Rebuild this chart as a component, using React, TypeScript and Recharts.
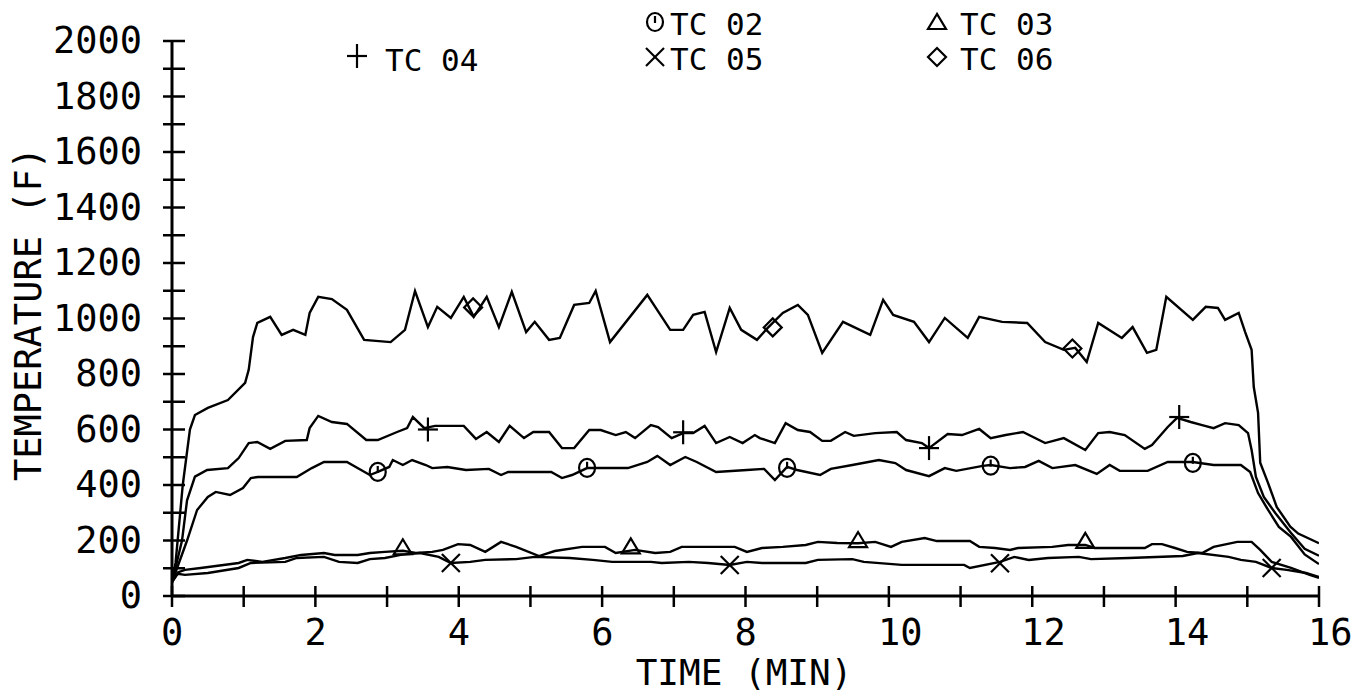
import React from 'react';
import { ComposedChart, Line, Scatter, XAxis, YAxis, Customized } from 'recharts';

type Pt = [number, number];

// Thermocouple series: [time (min), temperature (F)]
const tc06: Pt[] = [[0,50],[0.05,120],[0.15,400],[0.25,600],[0.32,652],[0.5,678],[0.78,706],[1.02,768],[1.07,815],[1.13,933],[1.19,984],[1.37,1006],[1.53,941],[1.69,959],[1.86,941],[1.92,1020],[2.04,1078],[2.23,1070],[2.44,1031],[2.68,923],[3.05,915],[3.25,959],[3.39,1099],[3.57,969],[3.70,1042],[3.89,1002],[4.07,1078],[4.21,1006],[4.39,1078],[4.56,969],[4.74,1096],[4.94,951],[5.06,988],[5.26,923],[5.41,930],[5.61,1049],[5.82,1056],[5.91,1099],[6.11,915],[6.63,1085],[6.95,959],[7.13,959],[7.27,1013],[7.43,1024],[7.59,879],[7.78,1038],[7.94,959],[8.16,923],[8.31,966],[8.52,1020],[8.73,1049],[8.87,1013],[9.07,876],[9.36,988],[9.74,941],[9.92,1067],[10.06,1013],[10.35,988],[10.56,915],[10.78,1002],[11.10,930],[11.26,1006],[11.58,988],[11.93,984],[12.18,915],[12.44,887],[12.60,894],[12.76,843],[12.92,984],[13.25,930],[13.40,969],[13.60,876],[13.73,887],[13.87,1078],[14.24,995],[14.42,1042],[14.59,1038],[14.69,995],[14.88,1020],[14.97,951],[15.06,887],[15.09,753],[15.15,660],[15.18,480],[15.29,407],[15.41,321],[15.6,250],[15.71,225],[16,190]];

const tc04: Pt[] = [[0,50],[0.14,200],[0.21,345],[0.32,430],[0.49,454],[0.78,461],[0.93,497],[1.07,551],[1.19,555],[1.37,530],[1.58,559],[1.88,562],[1.92,605],[2.04,649],[2.23,627],[2.44,620],[2.71,562],[2.87,562],[3.14,591],[3.28,605],[3.36,645],[3.52,605],[3.67,613],[4.07,613],[4.24,566],[4.39,591],[4.56,555],[4.71,613],[4.91,569],[5.04,591],[5.26,591],[5.44,533],[5.61,533],[5.82,598],[5.98,598],[6.19,580],[6.33,591],[6.46,569],[6.68,616],[6.78,609],[6.97,569],[7.13,587],[7.27,587],[7.43,613],[7.59,551],[7.78,573],[7.96,551],[8.13,580],[8.20,569],[8.41,551],[8.56,623],[8.73,598],[8.90,591],[9.07,559],[9.19,559],[9.39,591],[9.51,577],[9.81,587],[10.11,591],[10.24,562],[10.46,551],[10.56,533],[10.82,584],[11.02,580],[11.26,602],[11.42,569],[11.63,580],[11.87,591],[12.18,551],[12.44,569],[12.74,526],[12.92,587],[13.08,591],[13.29,580],[13.57,530],[13.67,544],[13.89,609],[14.02,642],[14.21,627],[14.37,616],[14.53,605],[14.69,623],[14.88,616],[15.01,587],[15.06,526],[15.12,429],[15.23,357],[15.39,299],[15.61,227],[15.8,170],[16,145]];

const tc02: Pt[] = [[0,50],[0.21,200],[0.35,310],[0.50,357],[0.61,375],[0.81,364],[0.99,389],[1.10,425],[1.20,429],[1.74,429],[1.95,461],[2.12,483],[2.44,483],[2.76,436],[2.87,447],[3.03,465],[3.08,490],[3.22,472],[3.35,490],[3.54,472],[3.63,461],[3.84,465],[4.10,454],[4.42,458],[4.59,436],[4.69,447],[5.29,447],[5.44,425],[5.58,436],[5.79,461],[5.93,461],[6.36,461],[6.63,483],[6.77,505],[6.95,472],[7.16,501],[7.32,483],[7.59,447],[8.02,454],[8.26,458],[8.41,418],[8.58,465],[8.72,454],[9.04,436],[9.19,458],[9.49,472],[9.86,490],[10.09,479],[10.24,454],[10.56,432],[10.78,461],[10.94,451],[11.31,469],[11.42,472],[11.69,461],[11.90,465],[12.09,487],[12.28,461],[12.60,472],[12.90,440],[13.08,472],[13.22,451],[13.61,451],[13.89,483],[14.24,483],[14.53,472],[14.91,472],[15.04,447],[15.15,371],[15.29,310],[15.44,249],[15.61,213],[15.8,150],[16,115]];

const tc03: Pt[] = [[0,50],[0.08,85],[0.18,94],[0.40,101],[0.93,119],[1.05,130],[1.26,123],[1.58,137],[1.80,148],[2.12,155],[2.27,148],[2.59,148],[2.76,155],[2.97,159],[3.22,163],[3.40,155],[3.63,159],[3.78,166],[3.99,187],[4.16,184],[4.37,159],[4.59,195],[4.80,177],[5.12,144],[5.34,162],[5.72,177],[6.04,177],[6.19,155],[6.46,166],[6.74,155],[6.95,159],[7.11,177],[7.85,177],[8.02,159],[8.23,173],[8.52,177],[8.84,184],[9.01,195],[9.28,191],[9.57,190],[9.81,195],[10.03,177],[10.18,195],[10.50,209],[10.67,198],[11.13,198],[11.26,177],[11.48,173],[11.69,166],[11.80,173],[12.28,177],[12.50,184],[12.74,184],[12.87,173],[13.57,173],[13.67,187],[13.81,187],[13.99,173],[14.16,159],[14.37,155],[14.53,177],[14.86,195],[15.06,195],[15.18,166],[15.34,123],[15.61,101],[15.87,76],[16,65]];

const tc05: Pt[] = [[0,50],[0.08,80],[0.18,76],[0.50,83],[0.93,101],[1.10,119],[1.58,123],[1.74,137],[2.12,141],[2.33,123],[2.59,119],[2.76,133],[2.97,137],[3.19,148],[3.46,155],[3.72,141],[3.89,119],[4.16,123],[4.37,130],[4.80,133],[5.06,141],[5.55,137],[5.87,130],[6.14,123],[6.68,123],[6.83,119],[7.21,123],[7.48,119],[7.78,112],[8.02,123],[8.23,119],[8.84,119],[9.01,130],[9.49,133],[9.65,123],[10.18,112],[11.05,112],[11.13,101],[11.55,123],[11.75,141],[11.95,130],[12.22,137],[12.65,141],[12.82,133],[13.35,137],[14.10,144],[14.31,155],[14.74,141],[14.91,130],[15.12,123],[15.34,101],[15.55,94],[15.82,83],[16,68]];

// Marker positions on each curve
const m06: Pt[] = [[4.2,1040],[8.38,968],[12.56,892]];
const m04: Pt[] = [[3.57,600],[7.13,590],[10.56,533],[14.05,645]];
const m02: Pt[] = [[2.87,447],[5.79,462],[8.58,462],[11.42,470],[14.24,480]];
const m03: Pt[] = [[3.22,172],[6.40,175],[9.57,198],[12.74,195]];
const m05: Pt[] = [[3.89,119],[7.78,112],[11.55,118],[15.34,101]];

const xTicks = [0,1,2,3,4,5,6,7,8,9,10,11,12,13,14,15,16];
const yTicks = [0,100,200,300,400,500,600,700,800,900,1000,1100,1200,1300,1400,1500,1600,1700,1800,1900,2000];

const xTitle = 'TIME (MIN)';
const yTitle = 'TEMPERATURE (F)';

type Kind = 'plus' | 'circle' | 'triangle' | 'cross' | 'diamond';
const seriesNames = ['TC 04', 'TC 02', 'TC 05', 'TC 03', 'TC 06'];
const seriesKinds: Kind[] = ['plus', 'circle', 'cross', 'triangle', 'diamond'];

const FONT = "'DejaVu Sans Mono', 'Liberation Mono', monospace";
const INK = '#000';

const toObj = (a: Pt[]) => a.map(([t, T]) => ({ t, T }));

function Marker({ kind, cx, cy }: { kind: Kind; cx: number; cy: number }) {
  const s = { stroke: INK, strokeWidth: 2.2, fill: 'none' } as const;
  if (kind === 'plus')
    return (
      <g>
        <line x1={cx - 10} x2={cx + 10} y1={cy} y2={cy} {...s} />
        <line x1={cx} x2={cx} y1={cy - 12} y2={cy + 12} {...s} />
      </g>
    );
  if (kind === 'cross')
    return (
      <g>
        <line x1={cx - 9} x2={cx + 9} y1={cy - 9} y2={cy + 9} {...s} />
        <line x1={cx - 9} x2={cx + 9} y1={cy + 9} y2={cy - 9} {...s} />
      </g>
    );
  if (kind === 'circle')
    return (
      <g>
        <ellipse cx={cx} cy={cy} rx={8} ry={9} {...s} />
        <line x1={cx} x2={cx} y1={cy - 6} y2={cy + 1} {...s} />
      </g>
    );
  if (kind === 'triangle')
    return (
      <g>
        <polygon points={`${cx},${cy - 9} ${cx - 9},${cy + 6} ${cx + 9},${cy + 6}`} {...s} />
      </g>
    );
  return <polygon points={`${cx},${cy - 9} ${cx + 9},${cy} ${cx},${cy + 9} ${cx - 9},${cy}`} {...s} />;
}

function YTick(props: any) {
  const { x, y, payload } = props;
  const v = payload.value as number;
  return (
    <g>
      <line x1={x - 9} x2={x + 13} y1={y} y2={y} stroke={INK} strokeWidth={2.5} />
      {v % 200 === 0 && (
        <text x={x - 30} y={y + 12} textAnchor="end" fontFamily={FONT} fontSize={37} fill={INK}>
          {v}
        </text>
      )}
    </g>
  );
}

function XTick(props: any) {
  const { x, y, payload } = props;
  const v = payload.value as number;
  return (
    <g>
      <line x1={x} x2={x} y1={y - 10} y2={y + 11} stroke={INK} strokeWidth={2.5} />
      {v % 2 === 0 && (
        <text x={x - 11} y={y + 49} textAnchor="start" fontFamily={FONT} fontSize={37} fill={INK}>
          {v}
        </text>
      )}
    </g>
  );
}

const legendPos = [
  { sx: 357, sy: 56, tx: 385, ty: 71 },
  { sx: 655, sy: 22, tx: 670, ty: 35 },
  { sx: 655, sy: 57, tx: 670, ty: 70 },
  { sx: 937, sy: 23, tx: 960, ty: 35 },
  { sx: 937, sy: 57, tx: 960, ty: 70 },
];

function Overlay() {
  return (
    <g>
      {seriesNames.map((n, i) => (
        <g key={n}>
          <Marker kind={seriesKinds[i]} cx={legendPos[i].sx} cy={legendPos[i].sy} />
          <text x={legendPos[i].tx} y={legendPos[i].ty} fontFamily={FONT} fontSize={31} fill={INK}>
            {n}
          </text>
        </g>
      ))}
      <text x={744} y={685} textAnchor="middle" fontFamily={FONT} fontSize={36} fill={INK}>
        {xTitle}
      </text>
      <text
        transform="translate(28,314) rotate(-90)"
        dy={13}
        textAnchor="middle"
        fontFamily={FONT}
        fontSize={37}
        fill={INK}
      >
        {yTitle}
      </text>
    </g>
  );
}

const lines: { data: Pt[]; marks: Pt[]; kind: Kind; name: string }[] = [
  { data: tc06, marks: m06, kind: 'diamond', name: 'TC 06' },
  { data: tc04, marks: m04, kind: 'plus', name: 'TC 04' },
  { data: tc02, marks: m02, kind: 'circle', name: 'TC 02' },
  { data: tc03, marks: m03, kind: 'triangle', name: 'TC 03' },
  { data: tc05, marks: m05, kind: 'cross', name: 'TC 05' },
];

export default function App() {
  return (
    <div style={{ width: 1361, height: 696, margin: '-8px 0 0 -8px', background: '#fff', overflow: 'hidden' }}>
      <ComposedChart width={1361} height={696} margin={{ top: 41, right: 42, left: 0, bottom: 0 }}>
        <XAxis
          dataKey="t"
          type="number"
          domain={[0, 16]}
          ticks={xTicks}
          interval={0}
          tickSize={0}
          tickMargin={0}
          tickLine={false}
          height={100}
          axisLine={{ stroke: INK, strokeWidth: 3 }}
          tick={<XTick />}
          allowDataOverflow
        />
        <YAxis
          type="number"
          domain={[0, 2000]}
          ticks={yTicks}
          interval={0}
          tickSize={0}
          tickMargin={0}
          tickLine={false}
          width={172}
          axisLine={{ stroke: INK, strokeWidth: 3 }}
          tick={<YTick />}
          allowDataOverflow
        />
        {lines.map((l) => (
          <Line
            key={l.name}
            data={toObj(l.data)}
            dataKey="T"
            name={l.name}
            type="linear"
            stroke={INK}
            strokeWidth={2.4}
            dot={false}
            activeDot={false}
            isAnimationActive={false}
          />
        ))}
        {lines.map((l) => (
          <Scatter
            key={l.name + 'm'}
            data={toObj(l.marks)}
            dataKey="T"
            isAnimationActive={false}
            shape={(p: any) => <Marker kind={l.kind} cx={p.cx} cy={p.cy} />}
          />
        ))}
        <Customized component={Overlay} />
      </ComposedChart>
    </div>
  );
}
